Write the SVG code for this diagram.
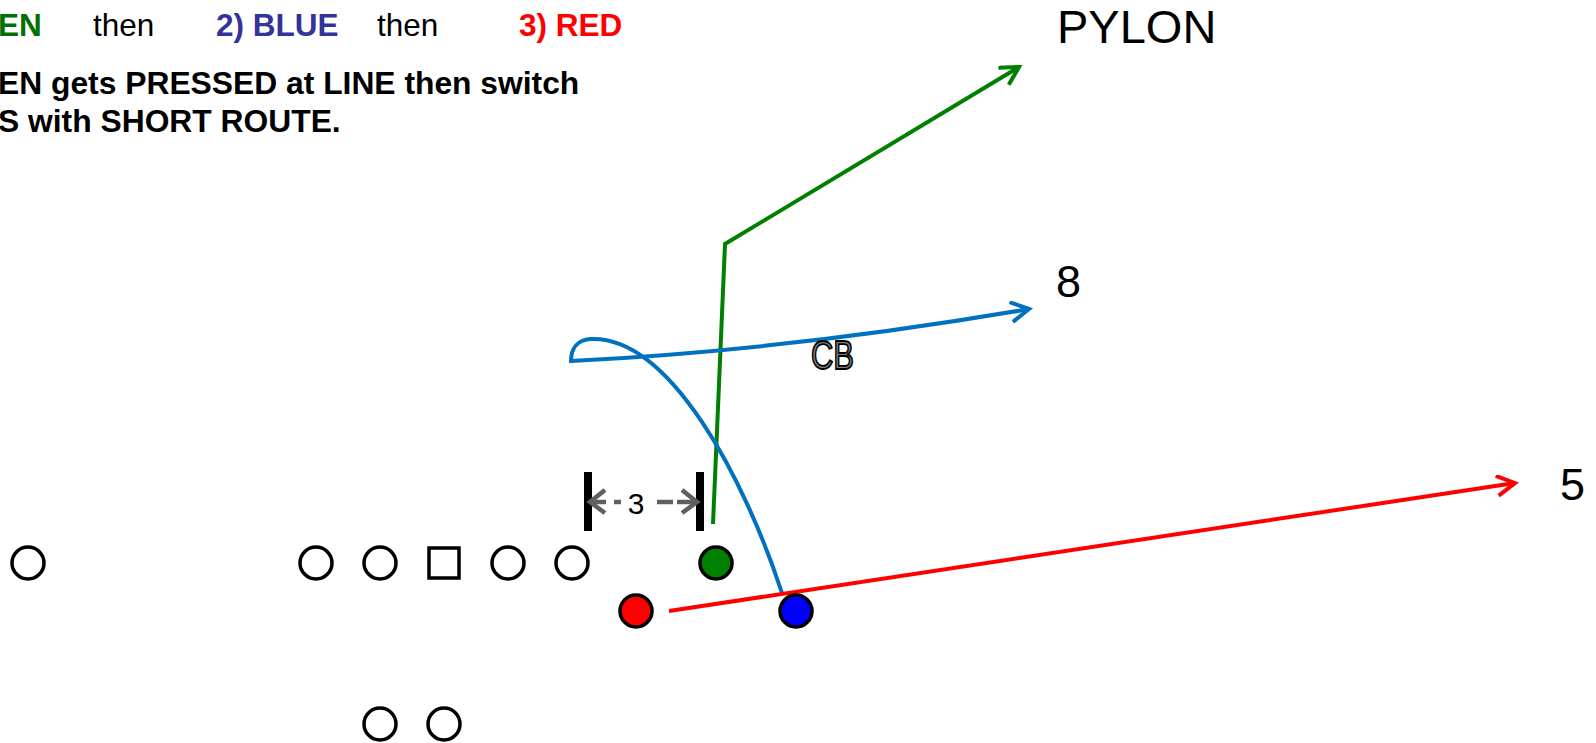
<svg xmlns="http://www.w3.org/2000/svg" width="1596" height="743" viewBox="0 0 1596 743">
<style>
.t{font-family:"Liberation Sans",Arial,sans-serif}
.b{font-weight:bold}
.p{fill:#fff;stroke:#000;stroke-width:3.5}
.r{fill:none;stroke-width:4;stroke-linejoin:miter}
.d{stroke:#606060;stroke-width:4.5;fill:none}
</style>
<defs>
<marker id="ag" viewBox="0 0 24 24" refX="20" refY="11" markerWidth="24" markerHeight="24" markerUnits="userSpaceOnUse" orient="auto"><path d="M2,1 L20,11 L2,21" fill="none" stroke="#008000" stroke-width="4"/></marker>
<marker id="ab" viewBox="0 0 24 24" refX="20" refY="11" markerWidth="24" markerHeight="24" markerUnits="userSpaceOnUse" orient="auto"><path d="M2,1 L20,11 L2,21" fill="none" stroke="#0070C0" stroke-width="4"/></marker>
<marker id="ar" viewBox="0 0 24 24" refX="20" refY="11" markerWidth="24" markerHeight="24" markerUnits="userSpaceOnUse" orient="auto"><path d="M2,1 L20,11 L2,21" fill="none" stroke="#FF0000" stroke-width="4"/></marker>
</defs>
<g id="title" class="t">
<text x="-2" y="36" font-size="31.5" class="b" fill="#007000">EN</text>
<text x="93" y="36" font-size="31.5" fill="#000">then</text>
<text x="216" y="36" font-size="31.5" class="b" fill="#333399">2) BLUE</text>
<text x="377" y="36" font-size="31.5" fill="#000">then</text>
<text x="519" y="36" font-size="31.5" class="b" fill="#FF0000">3) RED</text>
<text x="-2" y="94" font-size="31.8" class="b" fill="#000">EN gets PRESSED at LINE then switch</text>
<text x="-2" y="132" font-size="31.8" class="b" fill="#000">S with SHORT ROUTE.</text>
</g>
<g id="labels" class="t">
<text x="1057" y="43" font-size="47" fill="#000">PYLON</text>
<text x="1056" y="297" font-size="45" fill="#000">8</text>
<text x="1560" y="500" font-size="45" fill="#000">5</text>
</g>
<g id="connectors">
<path class="r" stroke="#008000" d="M713,524 L725,244 L1019,67" marker-end="url(#ag)"/>
<path class="r" stroke="#0070C0" d="M782,593 C745,480 670,335 590,339 C578,340 571,348 571,361 Q790,350 1029,309" marker-end="url(#ab)"/>
<path class="r" stroke="#FF0000" d="M669,611 L1515,483" marker-end="url(#ar)"/>
</g>
<g id="cb">
<text x="811" y="369" font-size="40" textLength="43" lengthAdjust="spacingAndGlyphs" class="t" fill="#808080" stroke="#000" stroke-width="1.8">CB</text>
</g>
<g id="dimension">
<rect x="584" y="472" width="8" height="59" fill="#000"/>
<rect x="696" y="472" width="8" height="59" fill="#000"/>
<polyline class="d" points="605,490 590,502 605,513"/>
<line class="d" x1="591" y1="502" x2="606" y2="502"/>
<line class="d" x1="614" y1="502" x2="621" y2="502"/>
<line class="d" x1="657" y1="502" x2="673" y2="502"/>
<line class="d" x1="677" y1="502" x2="697" y2="502"/>
<polyline class="d" points="682,490 697,502 682,513"/>
<text x="636" y="514" font-size="30" text-anchor="middle" class="t" fill="#000">3</text>
</g>
<g id="p1"><circle class="p" cx="28" cy="563" r="16"/></g>
<g id="p2"><circle class="p" cx="316" cy="563" r="16"/></g>
<g id="p3"><circle class="p" cx="380" cy="563" r="16"/></g>
<g id="center"><rect class="p" x="429" y="548" width="30" height="30"/></g>
<g id="p4"><circle class="p" cx="508" cy="563" r="16"/></g>
<g id="p5"><circle class="p" cx="572" cy="563" r="16"/></g>
<g id="green"><circle class="p" style="fill:#008000" cx="716" cy="563" r="16"/></g>
<g id="red"><circle class="p" style="fill:#FF0000" cx="636" cy="611" r="16"/></g>
<g id="blue"><circle class="p" style="fill:#0000FF" cx="796" cy="611" r="16"/></g>
<g id="b1"><circle class="p" cx="380" cy="724" r="16"/></g>
<g id="b2"><circle class="p" cx="444" cy="724" r="16"/></g>
</svg>
